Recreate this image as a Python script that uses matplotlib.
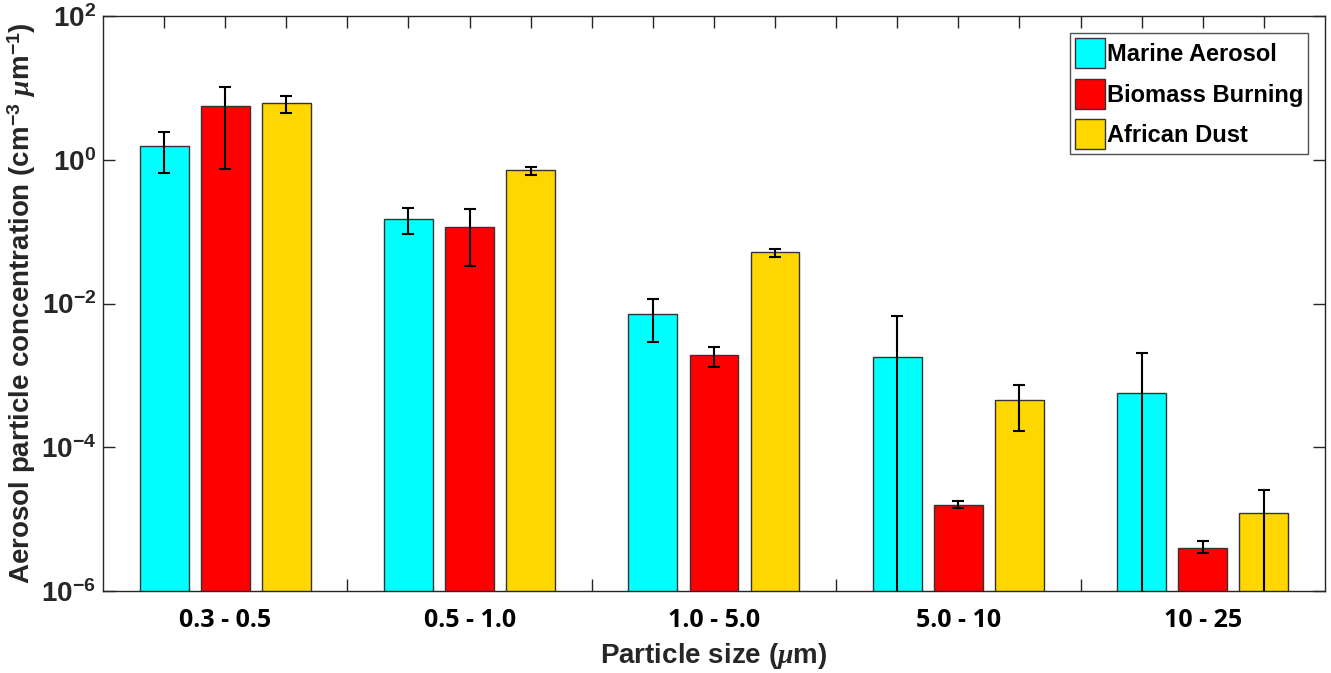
import matplotlib
matplotlib.use("Agg")
import matplotlib.pyplot as plt
import numpy as np

plt.rcParams["font.family"] = ["Liberation Sans", "DejaVu Sans"]
plt.rcParams["font.weight"] = "bold"
plt.rcParams["axes.unicode_minus"] = False
plt.rcParams["mathtext.fontset"] = "custom"
plt.rcParams["mathtext.rm"] = "Liberation Sans:bold"
plt.rcParams["mathtext.bf"] = "Liberation Sans:bold"
plt.rcParams["mathtext.it"] = "Liberation Serif:italic"

# data
size_bins = ["0.3 - 0.5", "0.5 - 1.0", "1.0 - 5.0", "5.0 - 10", "10 - 25"]
series = ["Marine Aerosol", "Biomass Burning", "African Dust"]
colors = ["#00FFFF", "#FF0000", "#FFD700"]

marine = [1.57, 0.152, 0.0071, 1.79e-3, 5.7e-4]
marine_hi = [2.46, 0.214, 0.0115, 6.6e-3, 2.07e-3]
marine_lo = [0.655, 0.094, 0.0029, 1e-8, 1e-8]

biomass = [5.7, 0.117, 1.93e-3, 1.58e-5, 4.0e-6]
biomass_hi = [10.4, 0.205, 2.49e-3, 1.78e-5, 4.9e-6]
biomass_lo = [0.74, 0.0333, 1.32e-3, 1.42e-5, 3.4e-6]

dust = [6.2, 0.72, 0.0517, 4.6e-4, 1.22e-5]
dust_hi = [7.7, 0.80, 0.058, 7.4e-4, 2.5e-5]
dust_lo = [4.5, 0.62, 0.045, 1.69e-4, 1e-8]

values = [marine, biomass, dust]
highs = [marine_hi, biomass_hi, dust_hi]
lows = [marine_lo, biomass_lo, dust_lo]

fig = plt.figure(figsize=(13.31, 6.73), dpi=100)
ax = fig.add_axes([0.0774, 0.122, 0.918, 0.854])
ax.set_yscale("log")

n_groups = len(size_bins)
for s in range(3):
    x = np.arange(n_groups) * 4 + s + 1
    v = np.array(values[s])
    yerr = [v - np.array(lows[s]), np.array(highs[s]) - v]
    ax.bar(x, v, width=0.8, color=colors[s], edgecolor="#333333",
           linewidth=1.0, label=series[s], bottom=1e-8, zorder=2)
    ax.errorbar(x, v, yerr=yerr, fmt="none", ecolor="black",
                elinewidth=1.5, capsize=4, capthick=1.5, zorder=3)

ax.set_xlim(0, 20)
ax.set_ylim(1e-6, 1e2)
ax.set_yticks([1e-6, 1e-4, 1e-2, 1e0, 1e2])
ax.yaxis.set_minor_locator(matplotlib.ticker.NullLocator())

ticks = np.arange(1, 20)
labels = [""] * len(ticks)
for g, name in enumerate(size_bins):
    labels[4 * g + 1] = name
ax.set_xticks(ticks)
ax.set_xticklabels(labels, family="Open Sans", fontweight="bold",
                   fontsize=18, color="black")

ax.tick_params(axis="both", which="major", direction="in", length=8.5,
               width=1.0, top=True, right=True, color="#262626")
ax.tick_params(axis="x", pad=12)
ax.tick_params(axis="y", labelsize=20, labelcolor="#262626", pad=5)
for sp in ax.spines.values():
    sp.set_color("#262626")
    sp.set_linewidth(1.0)

ax.set_xlabel(r"Particle size ($\mu$m)", fontsize=20, fontweight="bold",
              color="#262626", labelpad=6)
ax.set_ylabel(r"Aerosol particle concentration (cm$^{-3}$ $\mu$m$^{-1}$)",
              fontsize=20, fontweight="bold", color="#262626", labelpad=2)

leg = ax.legend(loc="upper right", bbox_to_anchor=(0.986, 0.97),
                fontsize=17, frameon=True, fancybox=False, handlelength=1.3,
                handleheight=1.6, handletextpad=0.06, labelspacing=0.43,
                borderpad=0.2, borderaxespad=0.0)
leg.get_frame().set_edgecolor("#262626")
leg.get_frame().set_linewidth(1.0)
for t in leg.get_texts():
    t.set_fontweight("bold")

fig.savefig("out.png", dpi=100)
